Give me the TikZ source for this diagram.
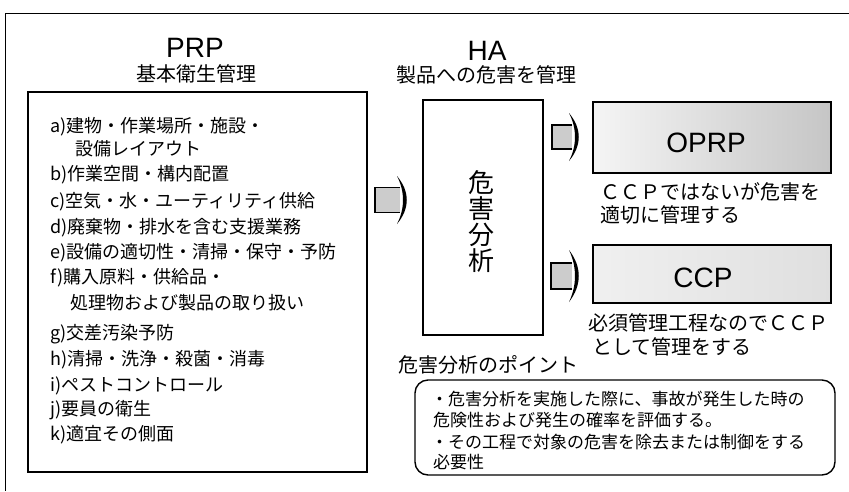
\documentclass[tikz,border=0pt]{standalone}
\usepackage{fontspec}
\setmainfont{Noto Sans CJK JP}
\newfontfamily\latinsans{Liberation Sans}
\usetikzlibrary{calc}
\newcommand\blockarr[6]{% name, x left, y center, body width, body half height, head half span
  \coordinate (#1) at (#2,#3);
  \fill[gray!40] (#2,#3-#5) rectangle (#2+#4,#3+#5);
  \draw[line width=1.4pt] (#2+#4,#3-#5) -- (#2,#3-#5) -- (#2,#3+#5) -- (#2+#4,#3+#5);
  \fill (#2+#4-3,#3-#6) .. controls (#2+#4+10,#3-#6*0.35) and (#2+#4+10,#3+#6*0.35) .. (#2+#4-3,#3+#6)
        .. controls (#2+#4+5,#3+#6*0.35) and (#2+#4+5,#3-#6*0.35) .. cycle;
}
\begin{document}
\begin{tikzpicture}[x=1pt,y=-1pt,
  box/.style={draw, line width=1.4pt, inner sep=0pt},
  item/.style={anchor=west, inner sep=0pt, font=\fontsize{18}{18}\selectfont},
  capt/.style={anchor=west, inner sep=0pt, font=\fontsize{20}{20}\selectfont},
  pt/.style={anchor=west, inner sep=0pt, font=\fontsize{17}{17}\selectfont},
  title/.style={inner sep=0pt, text height=20pt, text depth=0pt, font=\latinsans\fontsize{28}{28}\selectfont},
  subtitle/.style={inner sep=0pt, text height=17.5pt, text depth=2pt, font=\fontsize{20}{20}\selectfont}]
\useasboundingbox (0,0) rectangle (849,491);
\fill[white] (0,0) rectangle (849,491);
% outer frame
\coordinate (frameTL) at (5,13);
\coordinate (frameTR) at (849,13);
\coordinate (frameBL) at (5,491);
\draw[line width=1pt] (frameTR) -- (frameTL) -- (frameBL);

% PRP
\node[title, anchor=south] (prp) at (195,58) {PRP};
\node[subtitle, anchor=north] (prpsub) at (196,64) {基本衛生管理};
\node[box, minimum width=339pt, minimum height=380pt] (prpbox) at (197.5,282) {};
\node[item] (ia) at (50,127) {a)建物・作業場所・施設・};
\node[item] (ia2) at (75,149) {設備レイアウト};
\node[item] (ib) at (50,175) {b)作業空間・構内配置};
\node[item] (ic) at (50,202) {c)空気・水・ユーティリティ供給};
\node[item] (id) at (50,228) {d)廃棄物・排水を含む支援業務};
\node[item] (ie) at (50,253) {e)設備の適切性・清掃・保守・予防};
\node[item] (if) at (50,278) {f)購入原料・供給品・};
\node[item] (if2) at (70,303) {処理物および製品の取り扱い};
\node[item] (ig) at (50,334) {g)交差汚染予防};
\node[item] (ih) at (50,360) {h)清掃・洗浄・殺菌・消毒};
\node[item] (ii) at (50,386) {i)ペストコントロール};
\node[item] (ij) at (50,410) {j)要員の衛生};
\node[item] (ik) at (50,435) {k)適宜その側面};

% HA
\node[title, anchor=south] (ha) at (487,61) {HA};
\node[subtitle, anchor=north] (hasub) at (486,65) {製品への危害を管理};
\node[box, minimum width=120pt, minimum height=235pt] (habox) at (483,217.5) {};
\node[inner sep=0pt, align=center, font=\fontsize{26}{26}\selectfont] (hatext) at (481,222) {危\\害\\分\\析};

% OPRP
\node[box, minimum width=238pt, minimum height=71pt, left color=gray!8, right color=gray!45] (oprp) at (712,137.5) {};
\node[title] (oprpt) at (706,142) {OPRP};
\node[capt] (oprpc1) at (600,192) {ＣＣＰではないが危害を};
\node[capt] (oprpc2) at (600,215) {適切に管理する};

% CCP
\node[box, minimum width=238pt, minimum height=58pt, left color=gray!12, right color=gray!25] (ccp) at (712,274) {};
\node[title] (ccpt) at (703,277) {CCP};
\node[capt] (ccpc1) at (588,323) {必須管理工程なのでＣＣＰ};
\node[capt] (ccpc2) at (592,347) {として管理をする};

% block arrows
\blockarr{arA}{375}{200}{25}{12.5}{24}
\blockarr{arB}{552}{137}{20}{12}{24}
\blockarr{arC}{551}{276}{21}{13}{26}

% points
\node[capt] (ptitle) at (398,365) {危害分析のポイント};
\node[box, rounded corners=13pt, minimum width=420pt, minimum height=95pt] (ptbox) at (625,427.5) {};
\node[pt] (p1) at (431,399) {・危害分析を実施した際に、事故が発生した時の};
\node[pt] (p2) at (433,420) {危険性および発生の確率を評価する。};
\node[pt] (p3) at (431,442) {・その工程で対象の危害を除去または制御をする};
\node[pt] (p4) at (433,462) {必要性};
\end{tikzpicture}
\end{document}
